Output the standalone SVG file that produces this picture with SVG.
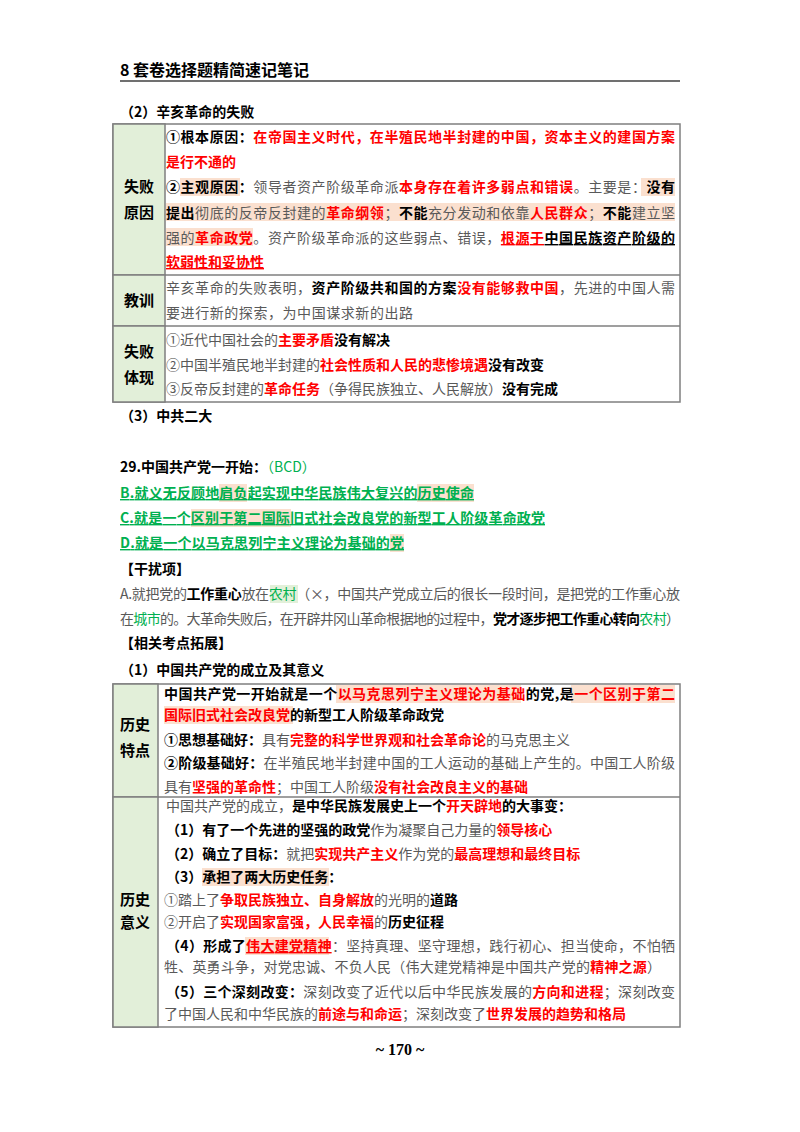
<svg xmlns="http://www.w3.org/2000/svg" width="800" height="1132" viewBox="0 0 800 1132">
<style>
text{font-family:"Noto Sans CJK SC","Liberation Serif",serif;font-size:14px;fill:#595959}
.b{font-weight:bold;fill:#000}
.r{font-weight:bold;fill:#f00}
.g{font-weight:bold;fill:#00b050;text-decoration:underline}
.u{text-decoration:underline}
.lab{font-weight:bold;fill:#000;font-size:15px;text-anchor:middle}
.hl{fill:#fbe0cf}
.hg{fill:#e2f0d9}
.cell{fill:#fff;stroke:#7f7f7f;stroke-width:1.5}
.lc{fill:#e2efd9;stroke:#7f7f7f;stroke-width:1.5}
</style>
<rect width="800" height="1132" fill="#fff"/>
<g id="header">
<text x="120" y="76" class="b" style="font-size:16px">8 套卷选择题精简速记笔记</text>
<line x1="120" y1="81" x2="680" y2="81" stroke="#404040" stroke-width="1.5"/>
<text x="120" y="117" class="b">（2）辛亥革命的失败</text>
</g>
<g id="table1">
<rect class="cell" x="113" y="124" width="567" height="278"/>
<rect class="lc" x="113" y="124" width="52" height="151"/>
<rect class="lc" x="113" y="275" width="52" height="51"/>
<rect class="lc" x="113" y="326" width="52" height="76"/>
<line x1="165" y1="275" x2="680" y2="275" stroke="#7f7f7f" stroke-width="1.5"/>
<line x1="165" y1="326" x2="680" y2="326" stroke="#7f7f7f" stroke-width="1.5"/>
<text class="lab" x="139" y="192">失败</text><text class="lab" x="139" y="218">原因</text>
<text class="lab" x="139" y="306">教训</text>
<text class="lab" x="139" y="357">失败</text><text class="lab" x="139" y="383">体现</text>
<rect class="hl" x="180" y="178" width="60" height="18"/>
<rect class="hl" x="641" y="178" width="34" height="18"/>
<rect class="hl" x="166" y="203" width="509" height="18"/>
<rect class="hl" x="166" y="228" width="87" height="18"/>
<text x="166" y="142" textLength="509" lengthAdjust="spacing"><tspan class="b">①根本原因：</tspan><tspan class="r">在帝国主义时代，在半殖民地半封建的中国，资本主义的建国方案</tspan></text>
<text x="166" y="167" class="r">是行不通的</text>
<text x="166" y="192" textLength="509" lengthAdjust="spacing"><tspan class="b">②主观原因：</tspan>领导者资产阶级革命派<tspan class="r">本身存在着许多弱点和错误</tspan>。主要是：<tspan class="b">没有</tspan></text>
<text x="166" y="218" textLength="509" lengthAdjust="spacing"><tspan class="b">提出</tspan>彻底的反帝反封建的<tspan class="r">革命纲领</tspan>；<tspan class="b">不能</tspan>充分发动和依靠<tspan class="r">人民群众</tspan>；<tspan class="b">不能</tspan>建立坚</text>
<text x="166" y="243" textLength="509" lengthAdjust="spacing">强的<tspan class="r">革命政党</tspan>。资产阶级革命派的这些弱点、错误，<tspan class="r u">根源于</tspan><tspan class="b u">中国民族资产阶级的</tspan></text>
<text x="166" y="267" class="r u">软弱性和妥协性</text>
<text x="166" y="293" textLength="509" lengthAdjust="spacing">辛亥革命的失败表明，<tspan class="b">资产阶级共和国的方案</tspan><tspan class="r">没有能够救中国</tspan>，先进的中国人需</text>
<text x="166" y="318" textLength="247" lengthAdjust="spacing">要进行新的探索，为中国谋求新的出路</text>
<text x="166" y="345">①近代中国社会的<tspan class="r">主要矛盾</tspan><tspan class="b">没有解决</tspan></text>
<text x="166" y="370">②中国半殖民地半封建的<tspan class="r">社会性质和人民的悲惨境遇</tspan><tspan class="b">没有改变</tspan></text>
<text x="166" y="394">③反帝反封建的<tspan class="r">革命任务</tspan>（争得民族独立、人民解放）<tspan class="b">没有完成</tspan></text>
</g>
<g id="q29">
<text x="120" y="421" class="b">（3）中共二大</text>
<text x="120" y="472" class="b">29.中国共产党一开始：<tspan style="fill:#00b050;font-weight:normal">（BCD）</tspan></text>
<rect class="hl" x="219" y="484" width="28" height="18"/>
<rect class="hl" x="417" y="484" width="57" height="18"/>
<rect class="hl" x="191" y="509" width="100" height="18"/>
<rect class="hl" x="390" y="534" width="14" height="18"/>
<text x="120" y="498" class="g" textLength="354" lengthAdjust="spacing">B.就义无反顾地肩负起实现中华民族伟大复兴的历史使命</text>
<text x="120" y="523" class="g" textLength="425" lengthAdjust="spacing">C.就是一个区别于第二国际旧式社会改良党的新型工人阶级革命政党</text>
<text x="120" y="548" class="g" textLength="284" lengthAdjust="spacing">D.就是一个以马克思列宁主义理论为基础的党</text>
<text x="120" y="574" class="b">【干扰项】</text>
<rect class="hg" x="270" y="585" width="28" height="18"/>
<text x="120" y="599" textLength="560" lengthAdjust="spacing">A.就把党的<tspan class="b">工作重心</tspan>放在<tspan style="fill:#00b050">农村</tspan>（×，中国共产党成立后的很长一段时间，是把党的工作重心放</text>
<text x="120" y="624" textLength="560" lengthAdjust="spacing">在<tspan style="fill:#00b050">城市</tspan>的。大革命失败后，在开辟井冈山革命根据地的过程中，<tspan class="b">党才逐步把工作重心转向</tspan><tspan style="fill:#00b050">农村</tspan>）</text>
<text x="120" y="648" class="b">【相关考点拓展】</text>
<text x="120" y="675" class="b">（1）中国共产党的成立及其意义</text>
</g>
<g id="table2">
<rect class="cell" x="113" y="684" width="567" height="343"/>
<rect class="lc" x="113" y="684" width="45" height="113"/>
<rect class="lc" x="113" y="797" width="45" height="230"/>
<line x1="158" y1="797" x2="680" y2="797" stroke="#7f7f7f" stroke-width="1.5"/>
<text class="lab" x="135" y="730">历史</text><text class="lab" x="135" y="756">特点</text>
<text class="lab" x="135" y="905">历史</text><text class="lab" x="135" y="928">意义</text>
<rect class="hl" x="336" y="685" width="185" height="18"/>
<rect class="hl" x="571" y="685" width="104" height="18"/>
<rect class="hl" x="164" y="706" width="129" height="18"/>
<rect class="hl" x="202" y="868" width="127" height="18"/>
<rect class="hl" x="245" y="937" width="84" height="18"/>
<text x="164" y="699" textLength="511" lengthAdjust="spacing" class="b">中国共产党一开始就是一个<tspan class="r">以马克思列宁主义理论为基础</tspan>的党,是<tspan class="r">一个区别于第二</tspan></text>
<text x="164" y="720" class="b"><tspan class="r">国际旧式社会改良党</tspan>的新型工人阶级革命政党</text>
<text x="164" y="745"><tspan class="b">①思想基础好：</tspan>具有<tspan class="r">完整的科学世界观和社会革命论</tspan>的马克思主义</text>
<text x="164" y="768" textLength="511" lengthAdjust="spacing"><tspan class="b">②阶级基础好：</tspan>在半殖民地半封建中国的工人运动的基础上产生的。中国工人阶级</text>
<text x="164" y="792">具有<tspan class="r">坚强的革命性</tspan>；中国工人阶级<tspan class="r">没有社会改良主义的基础</tspan></text>
<text x="166" y="811">中国共产党的成立，<tspan class="b">是中华民族发展史上一个</tspan><tspan class="r">开天辟地</tspan><tspan class="b">的大事变：</tspan></text>
<text x="166" y="835"><tspan class="b">（1）有了一个先进的坚强的政党</tspan>作为凝聚自己力量的<tspan class="r">领导核心</tspan></text>
<text x="166" y="859"><tspan class="b">（2）确立了目标：</tspan>就把<tspan class="r">实现共产主义</tspan>作为党的<tspan class="r">最高理想和最终目标</tspan></text>
<text x="166" y="882" class="b">（3）承担了两大历史任务：</text>
<text x="164" y="905">①踏上了<tspan class="r">争取民族独立、自身解放</tspan>的光明的<tspan class="b">道路</tspan></text>
<text x="164" y="927">②开启了<tspan class="r">实现国家富强，人民幸福</tspan>的<tspan class="b">历史征程</tspan></text>
<text x="166" y="951" textLength="509" lengthAdjust="spacing"><tspan class="b">（4）形成了</tspan><tspan class="r u">伟大建党精神</tspan>：坚持真理、坚守理想，践行初心、担当使命，不怕牺</text>
<text x="164" y="972" textLength="497" lengthAdjust="spacing">牲、英勇斗争，对党忠诚、不负人民（伟大建党精神是中国共产党的<tspan class="r">精神之源</tspan>）</text>
<text x="166" y="997" textLength="509" lengthAdjust="spacing"><tspan class="b">（5）三个深刻改变：</tspan>深刻改变了近代以后中华民族发展的<tspan class="r">方向和进程</tspan>；深刻改变</text>
<text x="164" y="1019">了中国人民和中华民族的<tspan class="r">前途与和命运</tspan>；深刻改变了<tspan class="r">世界发展的趋势和格局</tspan></text>
</g>
<text x="400" y="1055" class="b" style="text-anchor:middle;font-family:'Liberation Serif',serif;font-size:16px">~ 170 ~</text>
</svg>
